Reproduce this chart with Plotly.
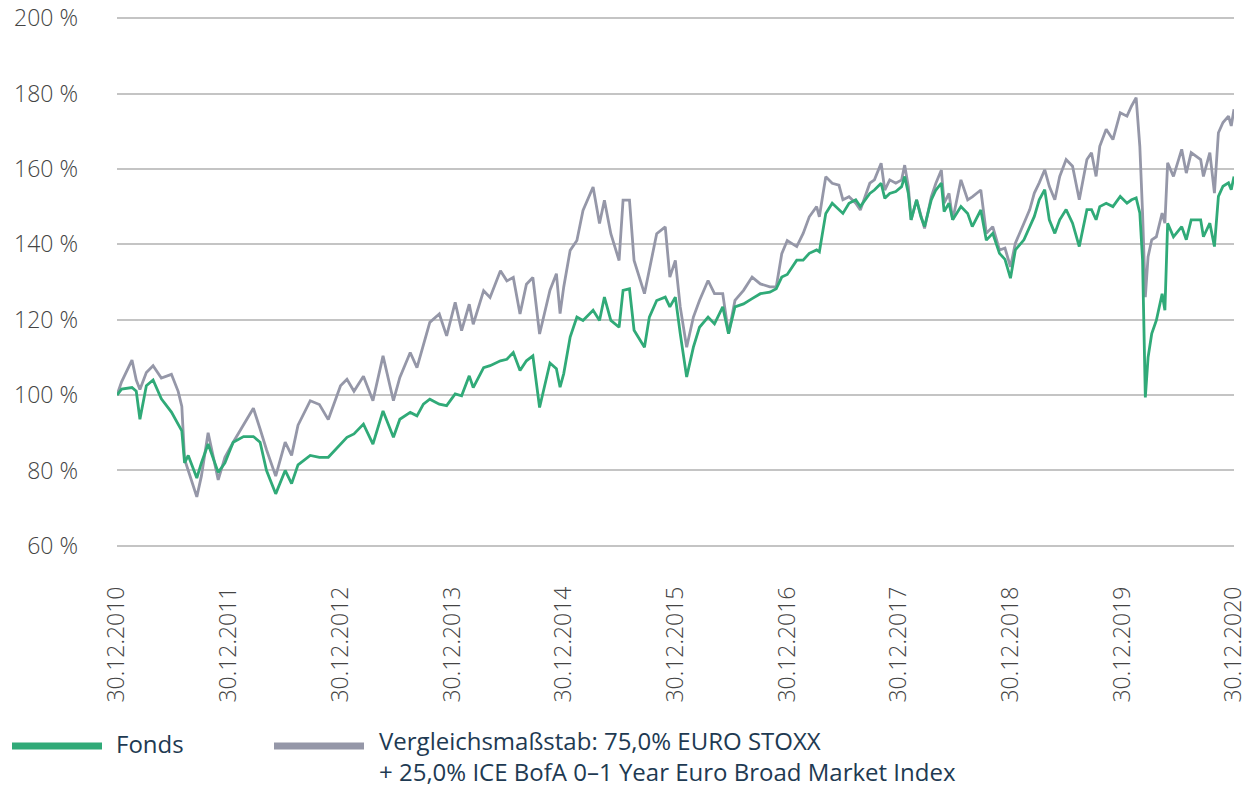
import plotly.graph_objects as go

dates = [
    "2010-12-30", "2011-01-14", "2011-02-17", "2011-03-03", "2011-03-15", "2011-04-05", "2011-04-27",
    "2011-05-24", "2011-06-26", "2011-07-18", "2011-07-30", "2011-08-08", "2011-08-20", "2011-09-17",
    "2011-10-02", "2011-10-24", "2011-11-26", "2011-12-18", "2012-01-14", "2012-02-17", "2012-03-20",
    "2012-04-11", "2012-05-02", "2012-06-01", "2012-07-02", "2012-07-23", "2012-08-13", "2012-09-22",
    "2012-10-22", "2012-11-20", "2012-12-30", "2013-01-20", "2013-02-12", "2013-03-15", "2013-04-15",
    "2013-05-18", "2013-06-21", "2013-07-12", "2013-08-15", "2013-09-06", "2013-09-27", "2013-10-18",
    "2013-11-18", "2013-12-12", "2014-01-09", "2014-01-30", "2014-02-24", "2014-03-09", "2014-04-12",
    "2014-05-03", "2014-06-06", "2014-06-27", "2014-07-18", "2014-08-09", "2014-08-30", "2014-09-20",
    "2014-10-12", "2014-11-15", "2014-12-06", "2014-12-18", "2014-12-30", "2015-01-20", "2015-02-11",
    "2015-03-03", "2015-04-05", "2015-04-26", "2015-05-12", "2015-06-02", "2015-06-29", "2015-07-12",
    "2015-08-02", "2015-08-17", "2015-09-20", "2015-10-06", "2015-10-30", "2015-11-27", "2015-12-12",
    "2015-12-30", "2016-01-15", "2016-02-05", "2016-02-27", "2016-03-18", "2016-04-15", "2016-05-06",
    "2016-06-02", "2016-06-21", "2016-07-12", "2016-08-09", "2016-09-06", "2016-10-03", "2016-11-03",
    "2016-11-24", "2016-12-12", "2016-12-30", "2017-01-30", "2017-02-20", "2017-03-12", "2017-04-05",
    "2017-04-14", "2017-04-26", "2017-05-05", "2017-05-26", "2017-06-17", "2017-06-30", "2017-07-20",
    "2017-08-11", "2017-08-26", "2017-09-26", "2017-10-11", "2017-11-02", "2017-11-14", "2017-11-30",
    "2017-12-20", "2018-01-08", "2018-01-18", "2018-01-30", "2018-02-08", "2018-02-26", "2018-03-12",
    "2018-03-24", "2018-04-15", "2018-04-30", "2018-05-18", "2018-05-27", "2018-06-12", "2018-06-24",
    "2018-07-21", "2018-08-12", "2018-08-27", "2018-09-24", "2018-10-12", "2018-11-02", "2018-11-24",
    "2018-12-12", "2018-12-30", "2019-01-15", "2019-02-12", "2019-03-03", "2019-03-18", "2019-04-03",
    "2019-04-21", "2019-05-06", "2019-05-24", "2019-06-09", "2019-06-30", "2019-07-21", "2019-08-12",
    "2019-09-06", "2019-09-21", "2019-10-06", "2019-10-18", "2019-11-08", "2019-11-30", "2019-12-24",
    "2020-01-15", "2020-01-30", "2020-02-14", "2020-02-26", "2020-03-06", "2020-03-15", "2020-03-24",
    "2020-04-05", "2020-04-20", "2020-05-09", "2020-05-18", "2020-05-27", "2020-06-15", "2020-07-12",
    "2020-07-27", "2020-08-12", "2020-09-12", "2020-09-21", "2020-10-12", "2020-10-27", "2020-11-09",
    "2020-11-24", "2020-12-12", "2020-12-21", "2020-12-30",
]

fonds = [
    100.0, 101.6, 102.0, 101.0, 93.6, 102.5, 104.0,
    99.0, 95.5, 92.0, 90.5, 82.0, 84.0, 78.0,
    82.0, 87.0, 79.5, 82.0, 87.5, 89.0, 89.0,
    87.5, 80.0, 73.8, 80.0, 76.5, 81.5, 84.0,
    83.5, 83.5, 87.0, 88.8, 89.7, 92.3, 87.0,
    95.8, 88.8, 93.6, 95.4, 94.5, 97.6, 98.9,
    97.6, 97.2, 100.3, 99.8, 105.1, 102.0, 107.3,
    107.8, 109.1, 109.5, 111.3, 106.5, 109.1, 110.4,
    96.7, 108.5, 107.0, 102.1, 105.7, 115.4, 120.7,
    119.8, 122.5, 119.8, 126.0, 119.8, 118.0, 127.8,
    128.2, 117.2, 112.7, 120.7, 125.1, 126.0, 123.4,
    126.0, 116.3, 104.8, 112.7, 118.0, 120.7, 118.9,
    123.4, 116.3, 123.4, 124.2, 125.6, 126.9, 127.3,
    128.2, 131.3, 132.0, 135.8, 135.8, 137.6, 138.5,
    138.0, 143.8, 148.2, 150.9, 149.1, 148.2, 150.9,
    151.8, 150.0, 153.5, 154.4, 156.2, 152.2, 153.5,
    154.0, 155.3, 158.0, 153.5, 146.5, 151.8, 147.3,
    144.7, 151.8, 154.4, 156.2, 148.7, 150.9, 146.5,
    150.0, 148.2, 144.7, 149.1, 141.1, 142.9, 137.6,
    136.0, 131.0, 138.5, 141.2, 144.7, 147.4, 151.8,
    154.5, 146.5, 142.9, 146.5, 149.2, 145.6, 139.4,
    149.2, 149.2, 146.5, 150.0, 150.9, 150.0, 152.7,
    150.9, 151.8, 152.3, 148.3, 135.8, 99.4, 110.0,
    116.3, 119.8, 126.9, 122.5, 145.6, 142.0, 144.7,
    141.2, 146.5, 146.5, 142.0, 145.6, 139.4, 152.7,
    155.4, 156.3, 154.5, 158.0,
]

benchmark = [
    100.0, 103.5, 109.3, 104.0, 101.5, 106.0, 107.8,
    104.5, 105.5, 101.0, 97.0, 83.0, 80.0, 73.0,
    78.5, 90.0, 77.5, 83.5, 87.5, 92.0, 96.5,
    91.0, 85.5, 78.5, 87.5, 84.0, 92.0, 98.5,
    97.5, 93.5, 102.5, 104.2, 101.0, 105.0, 98.5,
    110.4, 98.5, 104.7, 111.3, 107.3, 113.5, 119.3,
    121.5, 115.7, 124.6, 117.1, 124.1, 118.8, 127.7,
    125.9, 133.0, 130.3, 131.2, 121.5, 129.4, 131.2,
    116.2, 127.8, 132.2, 121.6, 128.7, 138.4, 141.0,
    149.0, 155.2, 145.5, 151.7, 142.8, 135.7, 151.7,
    151.7, 135.7, 126.9, 133.1, 142.8, 144.6, 131.3,
    135.7, 123.4, 112.7, 120.7, 125.1, 130.4, 126.9,
    126.9, 116.3, 125.1, 127.8, 131.3, 129.5, 128.7,
    128.7, 137.5, 141.0, 139.4, 142.9, 147.3, 150.0,
    147.3, 153.5, 157.9, 156.2, 155.7, 151.8, 152.6,
    150.9, 149.1, 156.2, 157.1, 161.5, 154.4, 157.1,
    156.2, 157.1, 161.0, 155.3, 146.5, 151.8, 147.3,
    144.2, 152.6, 156.2, 159.7, 150.9, 153.5, 146.5,
    157.1, 151.8, 152.6, 154.4, 142.9, 144.7, 138.5,
    139.0, 134.0, 140.3, 145.6, 149.2, 153.6, 156.3,
    159.8, 155.4, 151.8, 158.0, 162.5, 160.7, 151.8,
    162.5, 164.3, 158.0, 166.0, 170.5, 167.8, 174.9,
    174.0, 176.7, 178.9, 166.0, 148.3, 126.0, 136.7,
    141.2, 142.0, 148.3, 145.6, 161.6, 158.0, 165.2,
    158.9, 164.3, 162.5, 158.0, 164.3, 153.6, 169.6,
    172.3, 174.0, 171.4, 175.8,
]

tick_dates = ["2010-12-30", "2011-12-30", "2012-12-30", "2013-12-30", "2014-12-30", "2015-12-30",
              "2016-12-30", "2017-12-30", "2018-12-30", "2019-12-30", "2020-12-30"]
tick_labels = ["30.12.2010", "30.12.2011", "30.12.2012", "30.12.2013", "30.12.2014", "30.12.2015",
               "30.12.2016", "30.12.2017", "30.12.2018", "30.12.2019", "30.12.2020"]
y_ticks = [60, 80, 100, 120, 140, 160, 180, 200]
y_labels = ["60 %", "80 %", "100 %", "120 %", "140 %", "160 %", "180 %", "200 %"]

fund_name = "Fonds"
bench_name_1 = "Vergleichsmaßstab: 75,0% EURO STOXX"
bench_name_2 = "+ 25,0% ICE BofA 0–1 Year Euro Broad Market Index"

GREEN = "#30aa78"
GREY = "#9597a8"
TEXT_NAVY = "#1e3a52"

fig = go.Figure()
fig.add_trace(go.Scatter(x=dates, y=benchmark, mode="lines", name=bench_name_1,
                         line=dict(color=GREY, width=2.8), showlegend=False))
fig.add_trace(go.Scatter(x=dates, y=fonds, mode="lines", name=fund_name,
                         line=dict(color=GREEN, width=2.8), showlegend=False))

# plot area in pixels: x 117..1234, y 17..547 (range padded slightly so the 200 % grid line shows)
L, R, T, B = 117, 1234, 17, 547
W, H = R - L, B - T

def px(x):
    return (x - L) / W

def py(y):
    return (B - y) / H

# manual legend
fig.add_shape(type="line", xref="paper", yref="paper", x0=px(12), x1=px(102), y0=py(746), y1=py(746),
              line=dict(color=GREEN, width=7))
fig.add_shape(type="line", xref="paper", yref="paper", x0=px(274), x1=px(364), y0=py(746), y1=py(746),
              line=dict(color=GREY, width=7))
legend_font = dict(family="Open Sans", size=24, color=TEXT_NAVY)
fig.add_annotation(xref="paper", yref="paper", x=px(115), y=py(743), text=fund_name, showarrow=False,
                   xanchor="left", yanchor="middle", font=legend_font, borderpad=0)
fig.add_annotation(xref="paper", yref="paper", x=px(378), y=py(755.5),
                   text=bench_name_1 + "<br>" + bench_name_2, showarrow=False, align="left",
                   xanchor="left", yanchor="middle", font=legend_font, borderpad=0)

tick_font = dict(family="Open Sans", size=23, color="#444444", weight=300)

fig.update_xaxes(range=["2010-12-30", "2020-12-30"], tickmode="array", tickvals=tick_dates,
                 ticktext=tick_labels, tickangle=-90, showgrid=False, zeroline=False, showline=False,
                 ticks="", tickfont=tick_font, ticklabelstandoff=34, automargin=False)
fig.update_yaxes(range=[59.7, 200.3], tickmode="array", tickvals=y_ticks, ticktext=y_labels,
                 showgrid=True, gridcolor="#c4c4c4", gridwidth=2, zeroline=False, showline=False,
                 ticks="", tickfont=tick_font, ticklabelstandoff=38, automargin=False)

fig.update_layout(width=1259, height=787, margin=dict(l=L, r=1259 - R, t=T, b=787 - B, autoexpand=False),
                  plot_bgcolor="white", paper_bgcolor="white", showlegend=False)

fig.write_html("out.html", config={"displayModeBar": False},
               post_script="document.body.style.margin='0';document.body.style.overflow='hidden';")
